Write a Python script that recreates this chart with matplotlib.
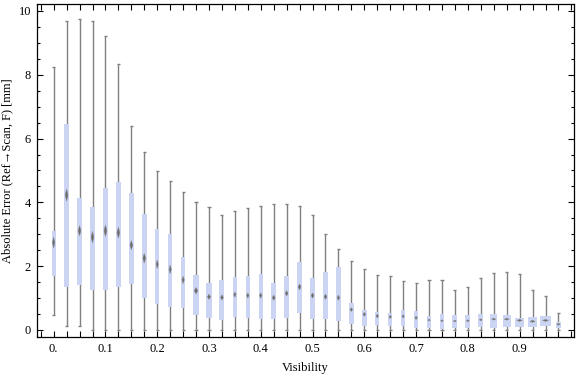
import matplotlib
matplotlib.use("Agg")
import matplotlib.pyplot as plt
from matplotlib.ticker import MultipleLocator, FixedLocator

# Datos
vis = [0.0, 0.025, 0.05, 0.075, 0.1, 0.125, 0.15, 0.175, 0.2, 0.225,
       0.25, 0.275, 0.3, 0.325, 0.35, 0.375, 0.4, 0.425, 0.45, 0.475,
       0.5, 0.525, 0.55, 0.575, 0.6, 0.625, 0.65, 0.675, 0.7, 0.725,
       0.75, 0.775, 0.8, 0.825, 0.85, 0.875, 0.9, 0.925, 0.95, 0.975]
w_hi = [8.25, 9.70, 9.74, 9.70, 9.22, 8.33, 6.38, 5.59, 4.99, 4.68,
        4.32, 4.00, 3.85, 3.59, 3.73, 3.81, 3.88, 3.94, 3.94, 3.88,
        3.59, 3.00, 2.53, 2.16, 1.90, 1.71, 1.68, 1.53, 1.46, 1.56,
        1.56, 1.24, 1.34, 1.62, 1.78, 1.81, 1.75, 1.24, 1.06, 0.53]
q3 = [3.10, 6.45, 4.13, 3.85, 4.44, 4.64, 4.29, 3.64, 3.17, 3.00,
      2.29, 1.72, 1.47, 1.57, 1.66, 1.69, 1.75, 1.47, 1.69, 2.13,
      1.63, 1.82, 1.97, 0.84, 0.62, 0.56, 0.53, 0.63, 0.60, 0.44,
      0.50, 0.47, 0.47, 0.50, 0.50, 0.47, 0.38, 0.40, 0.44, 0.25]
centro = [2.74, 4.23, 3.11, 2.91, 3.11, 3.05, 2.66, 2.25, 2.06, 1.90,
          1.57, 1.23, 1.04, 1.02, 1.11, 1.08, 1.08, 1.01, 1.15, 1.35,
          1.08, 1.04, 1.01, 0.64, 0.49, 0.44, 0.41, 0.43, 0.38, 0.31,
          0.29, 0.28, 0.29, 0.32, 0.34, 0.34, 0.30, 0.27, 0.30, 0.18]
q1 = [1.69, 1.34, 1.41, 1.25, 1.25, 1.36, 1.43, 1.01, 0.82, 0.73,
      0.68, 0.47, 0.39, 0.31, 0.41, 0.39, 0.35, 0.35, 0.39, 0.52,
      0.35, 0.35, 0.29, 0.19, 0.14, 0.17, 0.14, 0.11, 0.07, 0.07,
      0.04, 0.07, 0.07, 0.10, 0.07, 0.09, 0.09, 0.09, 0.14, 0.07]
w_lo = [0.47, 0.12, 0.12] + [0.0] * 37
# intervalo de confianza (semialtura del rombo)
ic = [0.17, 0.19, 0.16, 0.18, 0.18, 0.17, 0.14, 0.15, 0.13, 0.13,
      0.11, 0.10, 0.08, 0.08, 0.08, 0.08, 0.08, 0.08, 0.08, 0.09,
      0.08, 0.08, 0.08, 0.06, 0.06, 0.06, 0.05, 0.05, 0.05, 0.03,
      0.03, 0.03, 0.03, 0.03, 0.03, 0.03, 0.03, 0.03, 0.03, 0.03]
# peso relativo (ancho de caja)
peso = [0.86, 1, 1, 1, 1, 1, 1, 1, 0.8, 0.8,
        0.86, 1.2, 1.1, 1, 0.86, 0.86, 0.86, 1, 1, 1,
        1, 1, 0.86, 0.86, 0.93, 0.86, 0.86, 0.8, 0.86, 0.86,
        0.86, 1, 1, 1, 1.4, 1.66, 1.86, 1.8, 2.06, 1.14]

plt.rcParams['font.family'] = ['Liberation Serif', 'DejaVu Serif']
plt.rcParams['font.size'] = 9

fig = plt.figure(figsize=(5.76, 3.77), dpi=100)
ax = fig.add_axes([0.0637, 0.1061, 0.9328, 0.8825])

ancho = 0.0097
gris = '#808080'
for i, x in enumerate(vis):
    w = ancho * peso[i]
    ax.vlines(x, w_lo[i], w_hi[i], color=gris, lw=1.0, zorder=1)
    ax.hlines([w_lo[i], w_hi[i]], x - 0.003, x + 0.003, color=gris, lw=1.0, zorder=1)
    ax.bar(x, q3[i] - q1[i], bottom=q1[i], width=w, color='#ccd4f4',
           edgecolor='none', zorder=2)
    d = w * 0.28
    ax.fill([x - d, x, x + d, x], [centro[i], centro[i] + ic[i], centro[i], centro[i] - ic[i]],
            color='#6a6a6a', lw=0.4, ec='#8a8a8a', zorder=3)

ax.set_xlim(-0.0328, 1.005)
ax.set_ylim(-0.22, 10.21)

ax.xaxis.set_major_locator(FixedLocator([0.0, 0.1, 0.2, 0.3, 0.4, 0.5, 0.6, 0.7, 0.8, 0.9]))
ax.set_xticklabels(["0.", "0.1", "0.2", "0.3", "0.4", "0.5", "0.6", "0.7", "0.8", "0.9"])
ax.xaxis.set_minor_locator(MultipleLocator(0.025))
ax.yaxis.set_major_locator(MultipleLocator(2))
ax.yaxis.set_minor_locator(MultipleLocator(0.5))

ax.tick_params(which='both', direction='in', top=True, right=True, width=0.8, color='black')
ax.tick_params(axis='x', which='both', length=4, pad=4)
ax.tick_params(axis='y', which='major', length=4, pad=4)
ax.tick_params(axis='y', which='minor', length=2.5)
for s in ax.spines.values():
    s.set_linewidth(0.9)

ax.set_xlabel("Visibility", labelpad=5)
ax.set_ylabel("Absolute Error (Ref\u2192Scan, F) [mm]", labelpad=4)

plt.savefig("out.png")
